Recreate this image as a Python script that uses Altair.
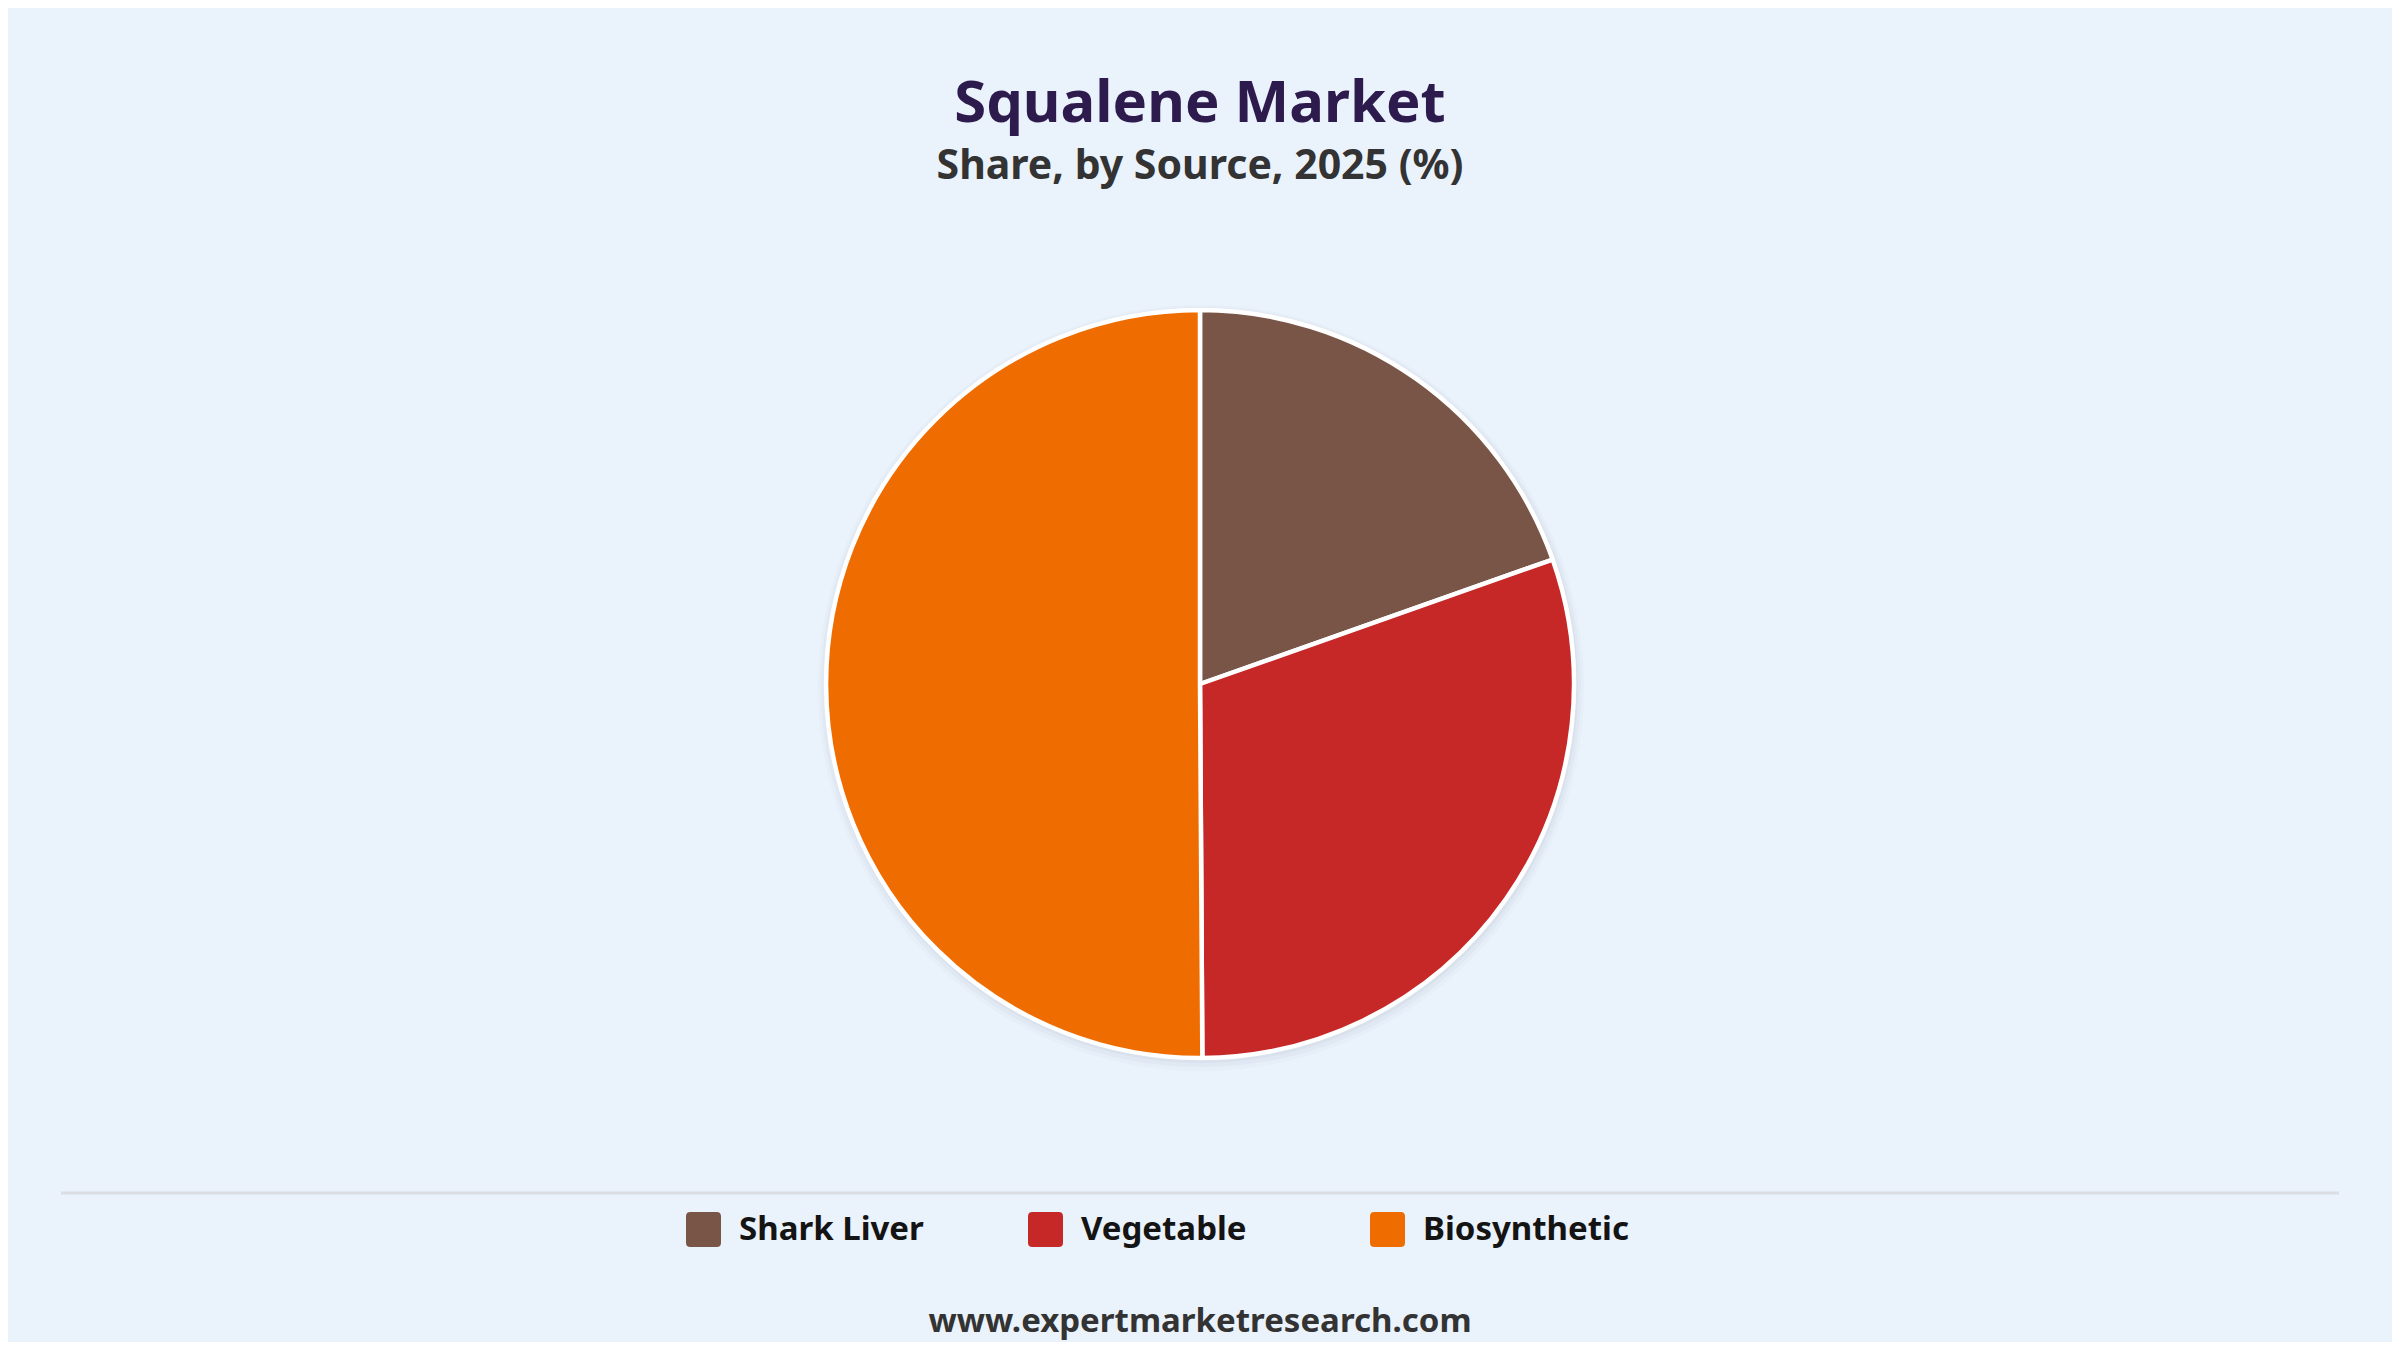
import math
import altair as alt
import pandas as pd

# ---- data ----
categories = ["Shark Liver", "Vegetable", "Biosynthetic"]
shares = [19.6, 30.3, 50.1]
colors = ["#795548", "#C62828", "#EF6C00"]

title_text = "Squalene Market"
subtitle_text = "Share, by Source, 2025 (%)"
footer_text = "www.expertmarketresearch.com"

W, H = 2384, 1334
CX, CY = 1192, 676
R = 374
FONT = "Noto Sans"
BG = "#EAF2FB"

df = pd.DataFrame({"Source": categories, "Share": shares, "idx": list(range(len(categories)))})

rounded_square = ("M-0.75,-1 L0.75,-1 Q1,-1 1,-0.75 L1,0.75 Q1,1 0.75,1 "
                  "L-0.75,1 Q-1,1 -1,0.75 L-1,-0.75 Q-1,-1 -0.75,-1 Z")

# soft shadow behind the pie
shadow_layers = []
for rr, op, dy in [(R + 9, 0.025, 4), (R + 6, 0.035, 3), (R + 3, 0.05, 2)]:
    shadow_layers.append(
        alt.Chart(pd.DataFrame({"a": [0]}))
        .mark_arc(theta=0, theta2=2 * math.pi, radius=rr, color="#4a5a78", opacity=op)
        .encode(x=alt.value(CX + 1), y=alt.value(CY + dy))
    )

pie = (
    alt.Chart(df)
    .mark_arc(radius=R, stroke="white", strokeWidth=4.5, strokeJoin="round")
    .encode(
        theta=alt.Theta("Share:Q", stack=True),
        order=alt.Order("idx:Q"),
        color=alt.Color(
            "Source:N",
            sort=categories,
            scale=alt.Scale(domain=categories, range=colors),
            legend=alt.Legend(
                title=None,
                orient="none",
                legendX=678,
                legendY=1204,
                direction="horizontal",
                symbolType=rounded_square,
                symbolSize=1225,
                symbolStrokeWidth=0,
                labelFont=FONT,
                labelFontSize=33,
                labelFontWeight="bold",
                labelColor="#141414",
                labelOffset=18,
                gridAlign="all",
                columnPadding=83,
                padding=0,
                labelLimit=400,
            ),
        ),
        x=alt.value(CX),
        y=alt.value(CY),
    )
)

def text_layer(txt, y, size, color, weight="bold"):
    return (
        alt.Chart(pd.DataFrame({"t": [txt]}))
        .mark_text(font=FONT, fontSize=size, fontWeight=weight, color=color,
                   align="center", baseline="alphabetic")
        .encode(text="t:N", x=alt.value(CX), y=alt.value(y))
    )

title = text_layer(title_text, 114, 58, "#2D1B4E")
subtitle = text_layer(subtitle_text, 171, 41, "#333333")
footer = text_layer(footer_text, 1324, 33, "#333333")

separator = (
    alt.Chart(pd.DataFrame({"a": [0]}))
    .mark_rule(color="#DADDE2", strokeWidth=3)
    .encode(x=alt.value(53), x2=alt.value(2331), y=alt.value(1185))
)

chart = (
    alt.layer(*shadow_layers, pie, title, subtitle, separator, footer)
    .properties(width=W, height=H, padding=0, background=BG)
    .configure_view(stroke=None)
)

chart.save("out.html", embed_options={"renderer": "svg", "actions": False})
